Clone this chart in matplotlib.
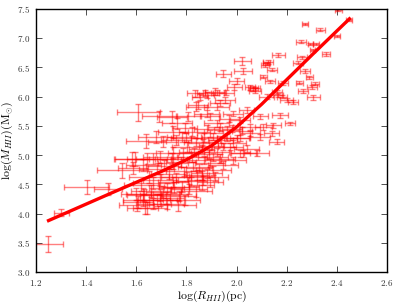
import matplotlib
matplotlib.use('Agg')
import matplotlib.pyplot as plt
from matplotlib.ticker import FormatStrFormatter, MultipleLocator

plt.rcParams['mathtext.fontset'] = 'cm'
plt.rcParams['font.family'] = 'serif'
plt.rcParams['font.serif'] = ['DejaVu Serif']

# log radius (pc), log mass (Msun) and their errors
log_r = [
    2.406, 2.449, 2.273, 2.333, 2.400, 2.257, 2.293, 2.316, 2.304, 2.357,
    2.167, 2.260, 2.127, 2.245, 2.273, 2.290, 2.250, 2.313, 2.300, 2.264,
    2.306, 2.120, 2.140, 2.107, 2.133, 2.186, 2.073, 2.160, 2.180, 2.200,
    2.226, 2.173, 2.147, 2.213, 2.140, 2.160, 2.113,
    2.023, 1.947, 2.026, 2.000, 1.914, 1.880, 1.854, 1.954, 2.054, 2.073,
    2.120, 2.167, 2.040, 1.987, 1.920, 2.094, 2.107, 2.054, 2.014, 1.987,
    1.947, 2.027, 1.907, 1.934, 1.894, 2.094, 1.874, 1.923, 1.958, 1.991,
    2.067, 2.054, 2.014, 1.934, 1.880, 1.921, 1.961, 2.000, 2.040, 2.080,
    1.974, 1.934, 1.894, 1.867, 1.907, 1.987,
    1.608, 1.692, 1.741, 1.808, 1.840, 1.834, 1.637, 1.677, 1.708, 1.745,
    1.794, 1.821, 1.757, 1.801, 1.748, 1.821, 1.582, 1.761, 1.847, 1.781,
    1.595, 1.668, 1.741, 1.788, 1.628, 1.543, 1.587,
    1.248, 1.300, 1.403, 1.487, 1.631, 1.635, 1.608, 1.668, 1.695, 1.708,
    1.600, 1.628, 1.602, 1.641, 1.628, 1.695, 1.735, 1.721, 1.781, 1.748,
    1.801, 1.841, 1.695, 1.668, 1.681, 1.748, 1.695, 1.641, 1.828, 1.794,
    1.768, 1.721, 1.681,
    2.014, 1.934, 1.894, 1.947, 1.907, 1.880, 1.914, 1.867, 1.894, 1.861,
    1.760, 1.790, 1.820, 1.850, 1.870, 1.830, 1.860, 1.890, 1.780, 1.810,
    1.840, 1.770, 1.730, 1.750, 1.860, 1.900, 1.920, 1.800, 1.840, 1.870,
    1.710, 1.660, 1.720, 1.650, 1.620, 1.880, 1.960, 1.980, 1.970, 2.020,
]
log_m = [
    7.48, 7.31, 7.24, 7.14, 7.04, 6.94, 6.90, 6.90, 6.80, 6.73,
    6.71, 6.67, 6.59, 6.58, 6.44, 6.33, 6.24, 6.22, 6.16, 6.10,
    5.99, 6.57, 6.46, 6.34, 6.26, 6.23, 6.14, 6.08, 6.00, 5.94,
    5.91, 5.68, 5.51, 5.54, 5.37, 5.23, 6.54,
    6.61, 6.39, 6.44, 6.26, 6.08, 6.03, 6.00, 5.94, 6.16, 6.10,
    6.00, 6.03, 5.77, 5.71, 5.83, 5.66, 5.48, 5.37, 5.29, 5.20,
    5.14, 5.03, 5.31, 5.48, 5.66, 5.31, 6.06, 6.07, 6.07, 6.17,
    6.14, 5.48, 5.60, 5.89, 5.71, 5.54, 5.43, 5.29, 5.11, 5.03,
    5.14, 5.26, 5.37, 5.20, 4.97, 4.91,
    5.73, 5.66, 5.65, 5.66, 5.83, 6.06, 5.24, 5.31, 5.23, 5.40,
    5.46, 5.40, 5.26, 5.14, 5.03, 4.97, 4.93, 5.54, 5.86, 5.31,
    4.94, 4.94, 4.94, 5.03, 4.83, 4.74, 4.78,
    3.48, 4.01, 4.45, 4.42, 4.32, 4.09, 4.20, 4.17, 4.23, 4.37,
    4.34, 4.23, 4.14, 4.09, 4.34, 4.32, 4.34, 4.43, 4.46, 4.54,
    4.63, 4.66, 4.57, 4.52, 4.77, 4.86, 4.97, 4.94, 4.80, 4.23,
    4.14, 4.17, 4.23,
    5.03, 4.94, 4.86, 4.83, 4.74, 4.69, 4.63, 4.57, 4.54, 4.49,
    4.62, 4.72, 4.55, 4.78, 4.92, 5.05, 5.10, 5.02, 4.88, 4.42,
    4.38, 4.30, 4.68, 4.45, 4.65, 5.15, 5.05, 5.30, 5.22, 5.30,
    4.82, 4.38, 4.27, 4.62, 4.48, 5.45, 5.30, 5.45, 5.62, 5.42,
]
log_r_err = [
    0.015, 0.012, 0.012, 0.018, 0.012, 0.020, 0.010, 0.012, 0.010, 0.015,
    0.025, 0.020, 0.020, 0.020, 0.020, 0.015, 0.015, 0.015, 0.020, 0.020,
    0.025, 0.015, 0.020, 0.015, 0.020, 0.020, 0.020, 0.020, 0.020, 0.025,
    0.020, 0.030, 0.030, 0.020, 0.030, 0.030, 0.015,
    0.033, 0.030, 0.035, 0.030, 0.040, 0.030, 0.030, 0.040, 0.020, 0.025,
    0.030, 0.020, 0.030, 0.040, 0.050, 0.030, 0.035, 0.040, 0.040, 0.050,
    0.050, 0.050, 0.050, 0.050, 0.040, 0.040, 0.030, 0.025, 0.030, 0.030,
    0.020, 0.040, 0.040, 0.040, 0.050, 0.050, 0.050, 0.050, 0.050, 0.050,
    0.050, 0.050, 0.050, 0.060, 0.060, 0.050,
    0.085, 0.070, 0.060, 0.050, 0.040, 0.030, 0.080, 0.070, 0.060, 0.060,
    0.050, 0.050, 0.060, 0.060, 0.070, 0.060, 0.070, 0.060, 0.040, 0.060,
    0.080, 0.070, 0.060, 0.060, 0.070, 0.100, 0.060,
    0.060, 0.030, 0.090, 0.055, 0.070, 0.050, 0.060, 0.070, 0.080, 0.070,
    0.060, 0.080, 0.070, 0.080, 0.070, 0.080, 0.070, 0.070, 0.070, 0.060,
    0.060, 0.050, 0.070, 0.080, 0.070, 0.060, 0.070, 0.080, 0.060, 0.060,
    0.070, 0.070, 0.080,
    0.040, 0.060, 0.060, 0.060, 0.070, 0.060, 0.050, 0.060, 0.050, 0.050,
    0.060, 0.070, 0.060, 0.050, 0.060, 0.060, 0.050, 0.050, 0.060, 0.070,
    0.060, 0.070, 0.070, 0.060, 0.050, 0.050, 0.050, 0.060, 0.050, 0.050,
    0.070, 0.080, 0.070, 0.080, 0.070, 0.050, 0.040, 0.040, 0.040, 0.040,
]
log_m_err = [
    0.02, 0.02, 0.02, 0.025, 0.02, 0.025, 0.02, 0.02, 0.02, 0.03,
    0.04, 0.03, 0.03, 0.025, 0.03, 0.03, 0.03, 0.03, 0.03, 0.03,
    0.04, 0.03, 0.03, 0.03, 0.03, 0.03, 0.03, 0.03, 0.03, 0.03,
    0.03, 0.04, 0.04, 0.03, 0.04, 0.04, 0.03,
    0.07, 0.06, 0.05, 0.05, 0.06, 0.05, 0.05, 0.05, 0.04, 0.04,
    0.04, 0.03, 0.05, 0.05, 0.06, 0.04, 0.05, 0.05, 0.05, 0.06,
    0.06, 0.06, 0.06, 0.06, 0.06, 0.05, 0.05, 0.04, 0.05, 0.05,
    0.04, 0.05, 0.05, 0.05, 0.06, 0.06, 0.06, 0.06, 0.06, 0.05,
    0.06, 0.06, 0.06, 0.07, 0.07, 0.06,
    0.14, 0.10, 0.10, 0.08, 0.07, 0.06, 0.12, 0.10, 0.10, 0.10,
    0.09, 0.08, 0.09, 0.09, 0.10, 0.09, 0.12, 0.10, 0.07, 0.09,
    0.12, 0.10, 0.10, 0.09, 0.10, 0.13, 0.10,
    0.13, 0.06, 0.12, 0.10, 0.10, 0.10, 0.10, 0.10, 0.10, 0.10,
    0.10, 0.10, 0.10, 0.10, 0.10, 0.10, 0.10, 0.10, 0.09, 0.09,
    0.08, 0.08, 0.10, 0.10, 0.10, 0.09, 0.10, 0.10, 0.08, 0.09,
    0.09, 0.10, 0.10,
    0.06, 0.07, 0.07, 0.07, 0.08, 0.08, 0.08, 0.08, 0.08, 0.08,
    0.08, 0.08, 0.08, 0.07, 0.07, 0.07, 0.07, 0.07, 0.08, 0.09,
    0.09, 0.09, 0.09, 0.09, 0.08, 0.07, 0.07, 0.08, 0.07, 0.07,
    0.09, 0.10, 0.10, 0.10, 0.10, 0.06, 0.06, 0.06, 0.06, 0.06,
]

# fitted relation, points
fit_r = [1.25, 1.50, 1.70, 1.80, 1.90, 2.00, 2.10, 2.20, 2.30, 2.45]
fit_m = [3.88, 4.35, 4.72, 4.92, 5.16, 5.48, 5.87, 6.29, 6.71, 7.33]

fig = plt.figure(figsize=(3.98, 3.06), dpi=100)
ax = fig.add_axes([0.0905, 0.111, 0.882, 0.86])

ax.errorbar(log_r, log_m, xerr=log_r_err, yerr=log_m_err, fmt='none',
            ecolor='red', elinewidth=1, capsize=2, capthick=1, alpha=0.5)
ax.plot(fit_r, fit_m, color='red', lw=2.4, solid_joinstyle='round')

ax.set_xlim(1.2, 2.6)
ax.set_ylim(3.0, 7.5)
ax.xaxis.set_major_locator(MultipleLocator(0.2))
ax.yaxis.set_major_locator(MultipleLocator(0.5))
ax.xaxis.set_major_formatter(FormatStrFormatter(r'$%.1f$'))
ax.yaxis.set_major_formatter(FormatStrFormatter(r'$%.1f$'))
ax.tick_params(direction='in', top=True, right=True, labelsize=6.5, length=4,
               width=0.6, colors='#333333', pad=4)
for s in ax.spines.values():
    s.set_linewidth(1.0)

ax.set_xlabel(r'$\log(R_{HII})(\mathrm{pc})$', fontsize=8.5, labelpad=1)
ax.set_ylabel(r'$\log(M_{HII})(\mathrm{M_{\odot}})$', fontsize=8.5, labelpad=2)

fig.savefig('out.png', dpi=100)
